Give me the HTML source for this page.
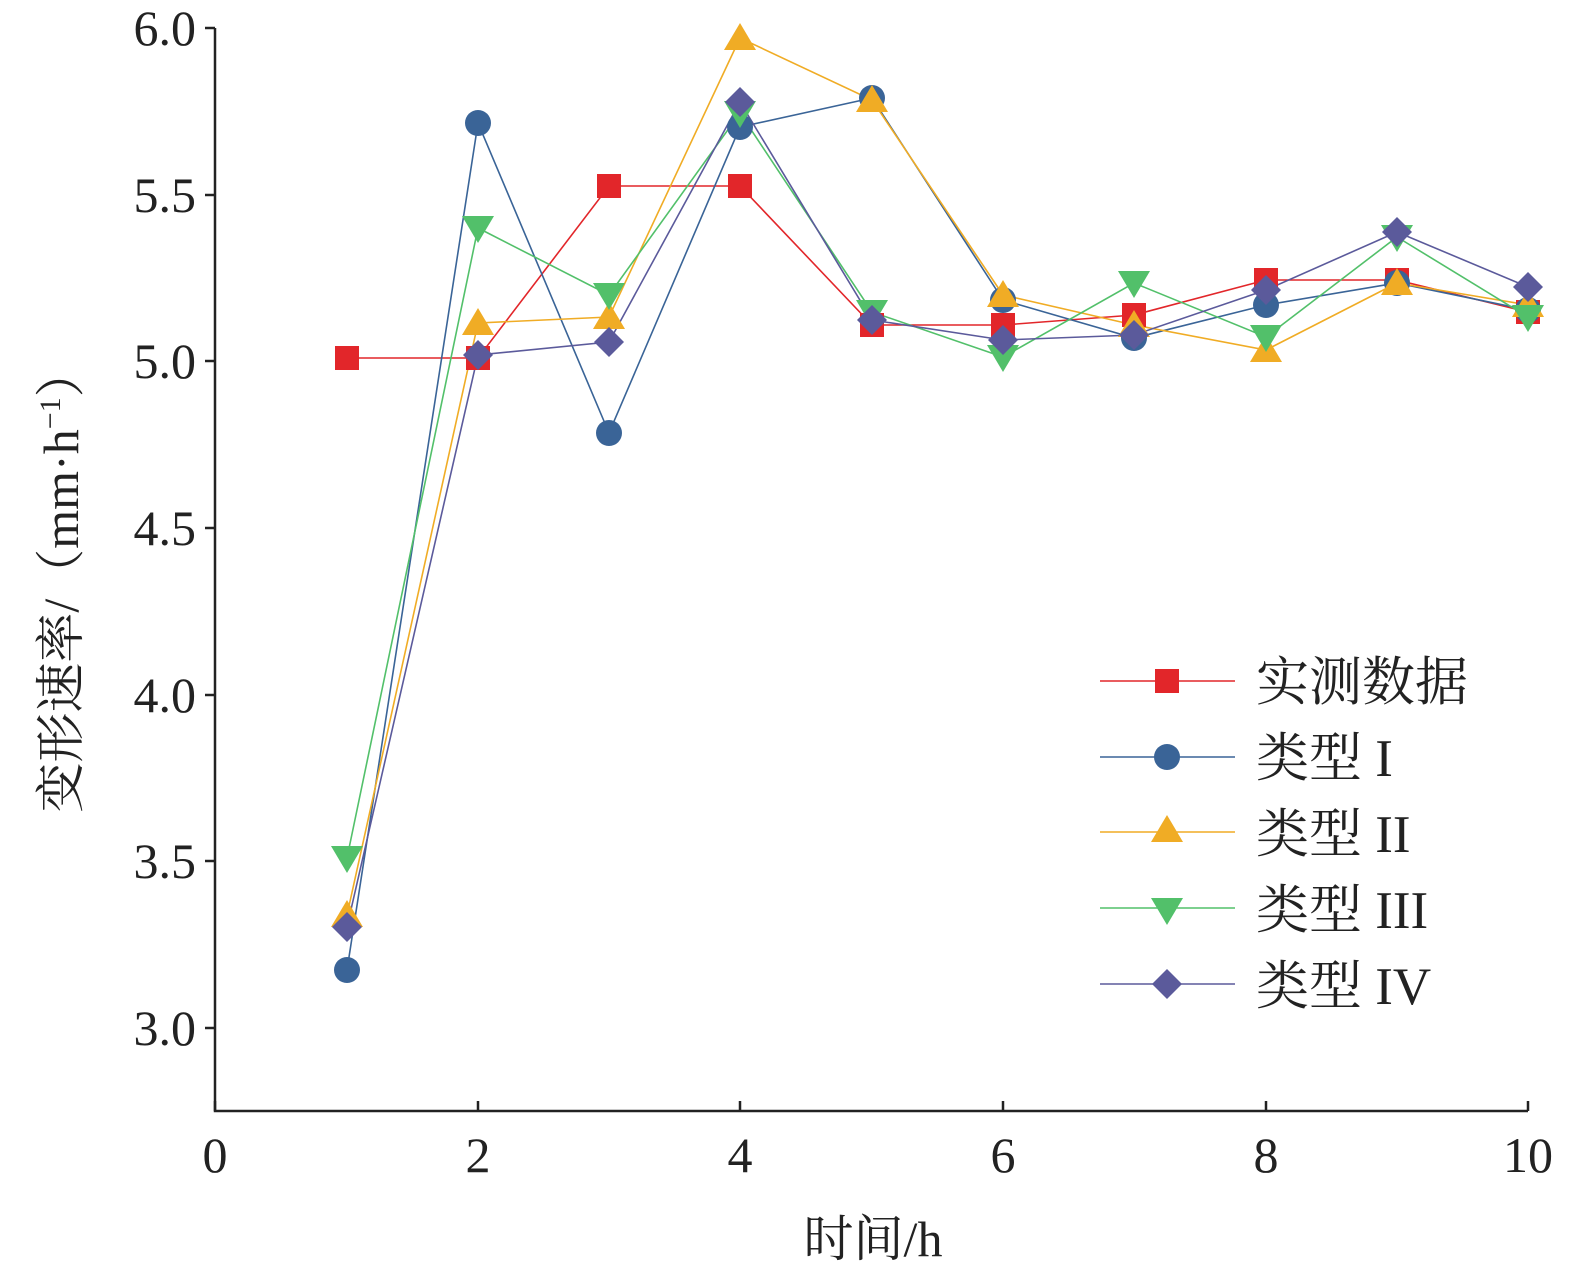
<!DOCTYPE html>
<html><head><meta charset="utf-8"><style>html,body{margin:0;padding:0;background:#fff;overflow:hidden;width:1575px;height:1279px}svg{display:block}text{font-family:"Liberation Serif","Noto Serif CJK SC",serif;fill:#222}</style></head><body>
<svg width="1575" height="1279" viewBox="0 0 1575 1279" xmlns="http://www.w3.org/2000/svg">
<defs>
<rect id="sq" x="-12" y="-12" width="24" height="24" fill="#e2262a"/>
<circle id="ci" r="13" fill="#3a6497"/>
<polygon id="tu" points="0,-15 16,12 -16,12" fill="#f0ac25"/>
<polygon id="td" points="0,15 16,-12 -16,-12" fill="#52c06a"/>
<polygon id="di" points="0,-15 15,0 0,15 -15,0" fill="#5b5a9b"/>
</defs>
<g stroke="#222" stroke-width="2.5" fill="none">
<path d="M215,28 V1111 H1528"/>
<path d="M215,28h-10M215,195h-10M215,361h-10M215,528h-10M215,695h-10M215,861h-10M215,1028h-10"/>
<path d="M215,1111v-10M478,1111v-10M740,1111v-10M1003,1111v-10M1266,1111v-10M1528,1111v-10"/>
</g>
<g font-size="50" text-anchor="end">
<text x="196" y="45">6.0</text><text x="196" y="212">5.5</text><text x="196" y="378">5.0</text><text x="196" y="545">4.5</text><text x="196" y="712">4.0</text><text x="196" y="878">3.5</text><text x="196" y="1045">3.0</text>
</g>
<g font-size="50" text-anchor="middle">
<text x="215" y="1172">0</text><text x="478" y="1172">2</text><text x="740" y="1172">4</text><text x="1003" y="1172">6</text><text x="1266" y="1172">8</text><text x="1528" y="1172">10</text>
<text x="873" y="1256">时间/h</text>
<text transform="translate(78,580) rotate(-90)">变形速率/（mm·h<tspan dy="-18" font-size="30">−1</tspan><tspan dy="18">）</tspan></text>
</g>
<g fill="none" stroke-width="1.6">
<polyline stroke="#e2262a" points="347,358 478,358 609,186 740,186 872,325 1003,325 1134,315 1266,280 1397,280 1528,312"/>
<polyline stroke="#3a6497" points="347,970 478,123 609,433 740,127 872,98 1003,300 1134,338 1266,305 1397,283 1528,310"/>
<polyline stroke="#f0ac25" points="347,915 478,323 609,317 740,38 872,100 1003,295 1134,325 1266,350 1397,283 1528,305"/>
<polyline stroke="#52c06a" points="347,858 478,228 609,295 740,113 872,312 1003,357 1134,283 1266,337 1397,237 1528,317"/>
<polyline stroke="#5b5a9b" points="347,927 478,355 609,342 740,102 872,320 1003,340 1134,335 1266,290 1397,232 1528,287"/>
</g>
<g>
<use href="#sq" x="347" y="358"/><use href="#sq" x="478" y="358"/><use href="#sq" x="609" y="186"/><use href="#sq" x="740" y="186"/><use href="#sq" x="872" y="325"/><use href="#sq" x="1003" y="325"/><use href="#sq" x="1134" y="315"/><use href="#sq" x="1266" y="280"/><use href="#sq" x="1397" y="280"/><use href="#sq" x="1528" y="312"/>
<use href="#ci" x="347" y="970"/><use href="#ci" x="478" y="123"/><use href="#ci" x="609" y="433"/><use href="#ci" x="740" y="127"/><use href="#ci" x="872" y="98"/><use href="#ci" x="1003" y="300"/><use href="#ci" x="1134" y="338"/><use href="#ci" x="1266" y="305"/><use href="#ci" x="1397" y="283"/><use href="#ci" x="1528" y="310"/>
<use href="#tu" x="347" y="915"/><use href="#tu" x="478" y="323"/><use href="#tu" x="609" y="317"/><use href="#tu" x="740" y="38"/><use href="#tu" x="872" y="100"/><use href="#tu" x="1003" y="295"/><use href="#tu" x="1134" y="325"/><use href="#tu" x="1266" y="350"/><use href="#tu" x="1397" y="283"/><use href="#tu" x="1528" y="305"/>
<use href="#td" x="347" y="858"/><use href="#td" x="478" y="228"/><use href="#td" x="609" y="295"/><use href="#td" x="740" y="113"/><use href="#td" x="872" y="312"/><use href="#td" x="1003" y="357"/><use href="#td" x="1134" y="283"/><use href="#td" x="1266" y="337"/><use href="#td" x="1397" y="237"/><use href="#td" x="1528" y="317"/>
<use href="#di" x="347" y="927"/><use href="#di" x="478" y="355"/><use href="#di" x="609" y="342"/><use href="#di" x="740" y="102"/><use href="#di" x="872" y="320"/><use href="#di" x="1003" y="340"/><use href="#di" x="1134" y="335"/><use href="#di" x="1266" y="290"/><use href="#di" x="1397" y="232"/><use href="#di" x="1528" y="287"/>
</g>
<g stroke-width="1.6">
<line x1="1100" y1="681" x2="1235" y2="681" stroke="#e2262a"/>
<line x1="1100" y1="757" x2="1235" y2="757" stroke="#3a6497"/>
<line x1="1100" y1="832" x2="1235" y2="832" stroke="#f0ac25"/>
<line x1="1100" y1="908" x2="1235" y2="908" stroke="#52c06a"/>
<line x1="1100" y1="984" x2="1235" y2="984" stroke="#5b5a9b"/>
</g>
<use href="#sq" x="1167" y="681"/><use href="#ci" x="1167" y="757"/><use href="#tu" x="1167" y="830"/><use href="#td" x="1167" y="910"/><use href="#di" x="1167" y="984"/>
<g font-size="53">
<text x="1256" y="700">实测数据</text>
<text x="1256" y="776">类型 I</text>
<text x="1256" y="852">类型 II</text>
<text x="1256" y="928">类型 III</text>
<text x="1256" y="1004">类型 IV</text>
</g>
</svg>
</body></html>
